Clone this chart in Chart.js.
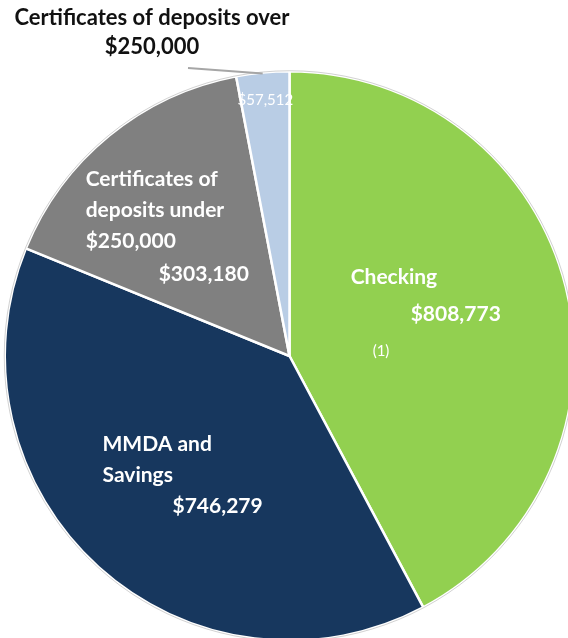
<!DOCTYPE html>
<html>
<head>
<meta charset="utf-8">
<script src="https://cdn.jsdelivr.net/npm/chart.js@4.4.1/dist/chart.umd.min.js"></script>
<style>
  html, body { margin: 0; padding: 0; background: #fff; overflow: hidden; }
  #wrap { position: absolute; left: 0; top: 0; width: 576px; height: 642px; }
</style>
</head>
<body>
<div id="wrap"><canvas id="depositChart"></canvas></div>
<script>
const categories = ['Checking', 'MMDA and Savings', 'Certificates of deposits under $250,000', 'Certificates of deposits over $250,000'];
const balances = [808773, 746279, 303180, 57512];
const footnotes = ['(1)', '', '', ''];
const sliceColors = ['#92D050', '#17375E', '#808080', '#B9CDE5'];

// text placement inside each slice: anchor on the slice's mid angle, block offsets from it
const labelLayout = [
    { name: ['Checking'], radius: 0.5, dx: 0, dy: -10, nameAt: [-77, -45], valueAt: [-17, -8], noteAt: [-55, 32] },
    { name: ['MMDA and', 'Savings'], radius: 0.55, dx: 0, dy: 0, nameAt: [-82, -38], valueAt: [-12, 24] },
    { name: ['Certificates of', 'deposits under', '$250,000'], radius: 0.62, dx: -8, dy: 4, nameAt: [-84, -55], valueAt: [-11, 40] },
    { name: [], radius: 0.9, dx: 0, dy: 0, valueAt: [0, -8], centered: true, regular: true, size: 15 }
];

const FONT = 'Lato, "Open Sans", sans-serif';
const LINE_H = 31;

function money(v) {
    return '$' + v.toLocaleString('en-US');
}

const sliceLabels = {
    id: 'sliceLabels',
    afterDatasetsDraw(chart) {
        const ctx = chart.ctx;
        const meta = chart.getDatasetMeta(0);
        ctx.save();

        // faint rim round the pie
        const first = meta.data[0].getProps(['x', 'y', 'outerRadius'], true);
        ctx.beginPath();
        ctx.arc(first.x, first.y, first.outerRadius + 0.5, 0, Math.PI * 2);
        ctx.strokeStyle = 'rgba(0,0,0,0.18)';
        ctx.lineWidth = 1;
        ctx.stroke();

        ctx.textBaseline = 'top';
        ctx.fillStyle = '#ffffff';
        meta.data.forEach((arc, i) => {
            const p = arc.getProps(['x', 'y', 'startAngle', 'endAngle', 'outerRadius'], true);
            const mid = (p.startAngle + p.endAngle) / 2;
            const lay = labelLayout[i];
            const ax = p.x + Math.cos(mid) * p.outerRadius * lay.radius + lay.dx;
            const ay = p.y + Math.sin(mid) * p.outerRadius * lay.radius + lay.dy;
            const size = lay.size || 21;

            ctx.font = 'bold ' + size + 'px ' + FONT;
            ctx.textAlign = 'left';
            lay.name.forEach((line, k) => {
                ctx.fillText(line, ax + lay.nameAt[0], ay + lay.nameAt[1] + k * LINE_H);
            });

            ctx.font = (lay.regular ? '' : 'bold ') + size + 'px ' + FONT;
            ctx.textAlign = lay.centered ? 'center' : 'left';
            ctx.fillText(money(balances[i]), ax + lay.valueAt[0], ay + lay.valueAt[1]);

            if (footnotes[i]) {
                ctx.font = '15px ' + FONT;
                ctx.textAlign = 'left';
                ctx.fillText(footnotes[i], ax + lay.noteAt[0], ay + lay.noteAt[1]);
            }
        });

        // outside caption for the thin slice, with a leader line to its rim
        const last = meta.data[meta.data.length - 1].getProps(['x', 'y', 'startAngle', 'endAngle', 'outerRadius'], true);
        const lm = (last.startAngle + last.endAngle) / 2;
        const ex = last.x + Math.cos(lm) * last.outerRadius;
        const ey = last.y + Math.sin(lm) * last.outerRadius;
        ctx.beginPath();
        ctx.moveTo(188, 68);
        ctx.lineTo(ex, ey + 1);
        ctx.strokeStyle = '#a6a6a6';
        ctx.lineWidth = 2;
        ctx.stroke();

        ctx.fillStyle = '#111111';
        ctx.font = 'bold 22px ' + FONT;
        ctx.textAlign = 'center';
        ctx.fillText('Certificates of deposits over', 152, 7);
        ctx.fillText('$250,000', 152, 36);

        ctx.restore();
    }
};

new Chart(document.getElementById('depositChart'), {
    type: 'pie',
    data: {
        labels: categories,
        datasets: [{
            data: balances,
            backgroundColor: sliceColors,
            borderColor: '#ffffff',
            borderWidth: 2.5
        }]
    },
    options: {
        responsive: true,
        maintainAspectRatio: false,
        animation: false,
        layout: { padding: { top: 70, left: 3, right: 0, bottom: 0 } },
        plugins: {
            legend: { display: false },
            tooltip: { enabled: false }
        }
    },
    plugins: [sliceLabels]
});
</script>
</body>
</html>
